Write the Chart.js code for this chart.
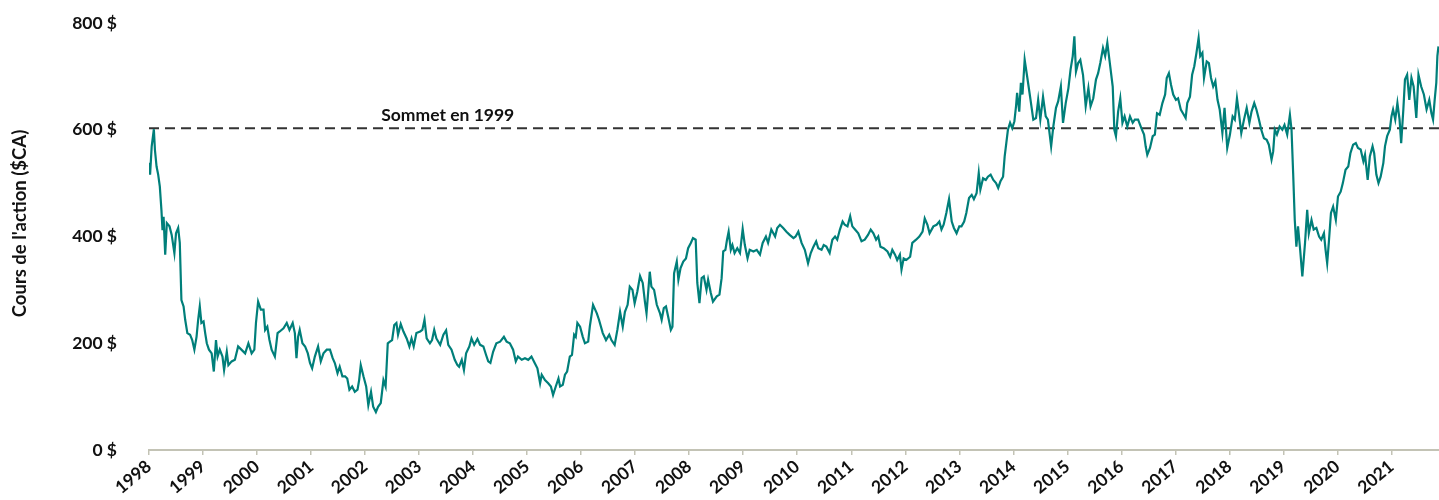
<!DOCTYPE html>
<html lang="fr">
<head>
<meta charset="utf-8">
<script src="https://cdn.jsdelivr.net/npm/chart.js@4.4.1/dist/chart.umd.min.js"></script>
<style>
  html, body { margin: 0; padding: 0; background: #fff; }
  #wrap { width: 1439px; height: 500px; position: relative; }
</style>
</head>
<body>
<div id="wrap"><canvas id="chart"></canvas></div>
<script>
// --- DONNÉES ---
const dates = [
  1998.01,1998.02,1998.05,1998.09,1998.11,1998.14,1998.17,1998.20,1998.23,1998.25,1998.27,1998.30,1998.33,1998.38,1998.42,1998.47,1998.50,1998.54,1998.57,1998.60,1998.64,1998.67,1998.71,1998.76,1998.80,1998.84,1998.88,1998.91,1998.94,1998.97,
  1999.01,1999.04,1999.07,1999.11,1999.16,1999.20,1999.24,1999.27,1999.31,1999.36,1999.39,1999.44,1999.47,1999.53,1999.59,1999.65,1999.71,1999.78,1999.84,1999.90,1999.95,1999.98,
  2000.02,2000.07,2000.12,2000.15,2000.19,2000.23,2000.27,2000.33,2000.38,2000.42,2000.49,2000.55,2000.60,2000.66,2000.70,2000.73,2000.76,2000.79,2000.84,2000.89,2000.94,2000.98,
  2001.02,2001.07,2001.13,2001.18,2001.23,2001.29,2001.35,2001.40,2001.44,2001.49,2001.53,2001.58,2001.63,2001.67,2001.71,2001.76,2001.81,2001.86,2001.89,2001.92,2001.97,
  2002.02,2002.06,2002.11,2002.15,2002.20,2002.24,2002.29,2002.34,2002.38,2002.42,2002.46,2002.50,2002.54,2002.58,2002.61,2002.66,2002.71,2002.77,2002.82,2002.86,2002.90,2002.95,
  2003.02,2003.06,2003.10,2003.14,2003.20,2003.24,2003.28,2003.32,2003.39,2003.45,2003.50,2003.54,2003.60,2003.66,2003.71,2003.74,2003.79,2003.83,2003.87,2003.93,2003.97,
  2004.02,2004.08,2004.13,2004.19,2004.24,2004.28,2004.32,2004.37,2004.43,2004.50,2004.57,2004.62,2004.68,2004.74,2004.79,2004.83,2004.90,2004.96,
  2005.02,2005.08,2005.14,2005.19,2005.24,2005.27,2005.33,2005.39,2005.44,2005.48,2005.53,2005.58,2005.61,2005.66,2005.70,2005.74,2005.79,2005.83,2005.87,2005.90,2005.93,2005.98,
  2006.03,2006.07,2006.13,2006.16,2006.22,2006.29,2006.33,2006.40,2006.46,2006.52,2006.56,2006.62,2006.67,2006.72,2006.77,2006.81,2006.86,2006.90,2006.95,2006.99,
  2007.04,2007.09,2007.14,2007.18,2007.21,2007.27,2007.30,2007.35,2007.40,2007.46,2007.49,2007.53,2007.57,2007.61,2007.66,2007.69,2007.72,2007.77,2007.80,2007.84,2007.89,2007.94,2007.98,
  2008.03,2008.07,2008.12,2008.15,2008.19,2008.23,2008.27,2008.32,2008.35,2008.40,2008.44,2008.51,2008.56,2008.60,2008.63,2008.67,2008.70,2008.73,2008.77,2008.80,2008.84,2008.89,2008.94,2008.99,
  2009.03,2009.08,2009.12,2009.19,2009.25,2009.31,2009.36,2009.42,2009.46,2009.52,2009.59,2009.63,2009.68,2009.74,2009.80,2009.86,2009.93,2009.97,
  2010.02,2010.08,2010.14,2010.20,2010.25,2010.30,2010.35,2010.39,2010.45,2010.49,2010.54,2010.60,2010.65,2010.70,2010.74,2010.79,2010.84,2010.88,2010.93,2010.98,
  2011.02,2011.07,2011.13,2011.19,2011.25,2011.31,2011.36,2011.41,2011.46,2011.50,2011.54,2011.60,2011.67,2011.72,2011.76,2011.81,2011.85,2011.90,2011.93,2011.97,
  2012.02,2012.09,2012.13,2012.20,2012.26,2012.32,2012.36,2012.41,2012.45,2012.52,2012.58,2012.63,2012.67,2012.71,2012.76,2012.81,2012.86,2012.90,2012.95,
  2013.00,2013.04,2013.09,2013.13,2013.18,2013.23,2013.27,2013.32,2013.36,2013.39,2013.44,2013.49,2013.53,2013.58,2013.63,2013.68,2013.72,2013.76,2013.81,2013.84,2013.87,2013.90,2013.94,2013.98,
  2014.02,2014.05,2014.07,2014.11,2014.14,2014.17,2014.21,2014.26,2014.31,2014.37,2014.42,2014.46,2014.50,2014.55,2014.60,2014.64,2014.70,2014.74,2014.79,2014.83,2014.88,2014.92,2014.97,
  2015.02,2015.06,2015.10,2015.13,2015.16,2015.20,2015.24,2015.29,2015.34,2015.39,2015.43,2015.48,2015.53,2015.57,2015.61,2015.66,2015.70,2015.74,2015.79,2015.84,2015.87,2015.90,2015.94,2015.98,
  2016.02,2016.06,2016.11,2016.16,2016.21,2016.25,2016.31,2016.37,2016.42,2016.45,2016.48,2016.53,2016.58,2016.62,2016.66,2016.71,2016.76,2016.81,2016.84,2016.88,2016.92,2016.96,
  2017.01,2017.05,2017.10,2017.14,2017.19,2017.22,2017.27,2017.31,2017.35,2017.39,2017.43,2017.46,2017.50,2017.53,2017.58,2017.62,2017.66,2017.70,2017.74,2017.78,2017.82,2017.87,2017.91,2017.96,
  2018.01,2018.06,2018.10,2018.14,2018.18,2018.22,2018.27,2018.32,2018.37,2018.41,2018.46,2018.50,2018.54,2018.59,2018.64,2018.69,2018.73,2018.78,2018.81,2018.84,2018.88,2018.93,2018.98,
  2019.02,2019.07,2019.12,2019.15,2019.18,2019.21,2019.24,2019.27,2019.31,2019.35,2019.40,2019.44,2019.47,2019.52,2019.56,2019.61,2019.66,2019.70,2019.75,2019.78,2019.81,2019.84,2019.88,2019.92,2019.97,
  2020.01,2020.06,2020.10,2020.15,2020.20,2020.24,2020.29,2020.34,2020.38,2020.43,2020.48,2020.51,2020.56,2020.60,2020.65,2020.68,2020.72,2020.76,2020.80,2020.85,2020.88,2020.92,2020.97,
  2021.00,2021.03,2021.07,2021.11,2021.15,2021.18,2021.22,2021.25,2021.29,2021.33,2021.37,2021.41,2021.46,2021.50,2021.55,2021.60,2021.65,2021.70,2021.74,2021.77,2021.80,2021.83,2021.85,2021.87
];

const prices = [
  538,516,569,601,562,531,516,494,450,412,437,366,425,419,403,369,406,416,388,281,269,244,219,216,206,188,212,244,269,238,
  241,219,200,188,181,147,206,175,188,175,150,184,159,166,169,194,188,181,200,181,188,238,
  278,263,263,225,231,206,188,175,219,222,228,238,225,238,219,172,212,225,200,194,181,163,
  153,175,194,166,181,188,188,172,163,144,156,138,138,134,113,119,109,113,131,159,138,
  119,84,109,81,71,81,88,131,119,200,203,206,234,238,216,236,222,209,194,209,194,219,
  222,225,244,209,200,206,225,209,197,216,224,197,188,169,159,156,169,150,181,194,209,
  197,208,197,194,178,166,163,184,200,203,212,203,200,188,166,175,169,172,
  169,175,163,153,125,141,131,125,119,103,119,134,119,122,141,147,175,178,216,212,238,231,
  212,200,203,231,272,256,244,219,206,216,206,197,225,259,231,259,272,306,300,275,
  297,326,313,278,256,334,306,300,272,256,244,266,269,250,225,231,331,353,319,341,353,359,378,
  388,397,394,313,275,322,325,300,319,294,278,288,291,322,372,375,394,409,375,384,369,378,369,414,
  384,359,375,372,375,366,388,400,388,413,400,416,422,416,409,403,397,400,
  409,388,375,350,369,381,391,378,375,384,381,369,394,400,394,413,428,422,419,438,
  419,413,406,391,394,403,413,406,394,400,381,378,372,362,375,366,356,366,338,359,
  356,362,388,394,400,409,434,422,406,419,422,428,413,422,444,470,428,416,406,
  419,419,428,444,472,478,470,481,519,488,509,506,512,516,506,500,491,503,512,550,575,600,613,603,
  616,644,669,634,688,666,731,697,662,619,622,656,619,662,625,619,569,606,641,653,681,613,650,
  678,713,738,775,709,725,731,703,644,678,644,659,694,706,725,753,738,763,722,681,600,588,634,659,
  613,625,606,625,613,619,619,603,591,569,553,566,588,591,631,628,650,666,697,706,684,666,
  656,659,638,631,622,650,662,703,719,744,772,738,744,697,728,725,697,681,691,656,638,594,641,566,
  591,625,619,659,628,594,619,641,613,634,650,638,622,600,584,581,572,544,559,600,591,606,600,
  609,591,628,600,519,431,381,419,375,325,388,450,406,431,413,416,400,394,406,375,350,388,444,456,431,
  475,484,500,525,531,556,572,575,566,563,541,553,506,550,569,556,516,500,512,538,569,588,600,
  625,638,619,650,619,575,638,694,703,656,697,681,622,703,681,666,638,656,631,619,656,688,738,756
];

const peak1999 = 603;           // sommet de 1999, ligne pointillée
const peakLabel = 'Sommet en 1999';
const yearMin = 1998;
const yearMax = 2021.88;
const yTicks = [0, 200, 400, 600, 800];

// --- STYLES ---
const FONT = { family: 'Lato, "Noto Sans", sans-serif', weight: 'bold', size: 17.5 };
const TITLE_SIZE = 18.5;
const TEXT_COLOR = '#111111';
const LINE_COLOR = '#007f7a';
const AXIS_COLOR = '#c3c3b5';

// Étiquette de la ligne pointillée + titre vertical de l'axe y
const annotationPlugin = {
  id: 'annotations',
  afterDatasetsDraw(chart) {
    const { ctx, scales: { x, y }, chartArea } = chart;
    ctx.save();
    ctx.font = `bold ${FONT.size}px ${FONT.family}`;
    ctx.fillStyle = TEXT_COLOR;
    ctx.textAlign = 'center';
    ctx.textBaseline = 'alphabetic';
    ctx.fillText(peakLabel, x.getPixelForValue(2003.53), y.getPixelForValue(peak1999) - 7);

    // titre de l'axe y
    ctx.font = `bold ${TITLE_SIZE}px ${FONT.family}`;
    ctx.translate(20, (chartArea.top + chartArea.bottom) / 2 - 13);
    ctx.rotate(-Math.PI / 2);
    ctx.textBaseline = 'middle';
    ctx.fillText("Cours de l'action ($CA)", 0, 0);
    ctx.restore();
  }
};

const priceData = dates.map((d, i) => ({ x: d, y: prices[i] }));
const peakData = [{ x: yearMin, y: peak1999 }, { x: yearMax, y: peak1999 }];

new Chart(document.getElementById('chart'), {
  type: 'line',
  data: {
    datasets: [
      { label: 'Cours', data: priceData, borderColor: LINE_COLOR, borderWidth: 2.2, pointRadius: 0, tension: 0 },
      { label: peakLabel, data: peakData, borderColor: '#333333', borderWidth: 2, borderDash: [10, 6], pointRadius: 0 }
    ]
  },
  options: {
    responsive: true,
    maintainAspectRatio: false,
    animation: false,
    devicePixelRatio: 1,
    layout: { padding: { top: 23, right: 0, bottom: 0, left: 0 } },
    plugins: { legend: { display: false }, tooltip: { enabled: false } },
    scales: {
      x: {
        type: 'linear',
        min: yearMin,
        max: yearMax,
        grid: { drawOnChartArea: false, drawTicks: true, tickLength: 5, color: AXIS_COLOR, lineWidth: 1.5 },
        border: { display: true, color: AXIS_COLOR, width: 2 },
        ticks: {
          stepSize: 1, includeBounds: false, autoSkip: false,
          minRotation: 40, maxRotation: 40, padding: 1,
          color: TEXT_COLOR, font: FONT,
          callback: v => Number.isInteger(v) ? String(v) : ''
        },
        afterFit: s => { s.height = 50; s.paddingLeft = 0; s.paddingRight = 0; }
      },
      y: {
        min: 0,
        max: 800,
        grid: { display: false },
        border: { display: false },
        afterBuildTicks: s => { s.ticks = yTicks.map(v => ({ value: v })); },
        ticks: { padding: 24, color: TEXT_COLOR, font: FONT, callback: v => v + ' $' },
        afterFit: s => { s.width = 149; s.paddingTop = 0; s.paddingBottom = 0; }
      }
    }
  },
  plugins: [annotationPlugin]
});
</script>
</body>
</html>
